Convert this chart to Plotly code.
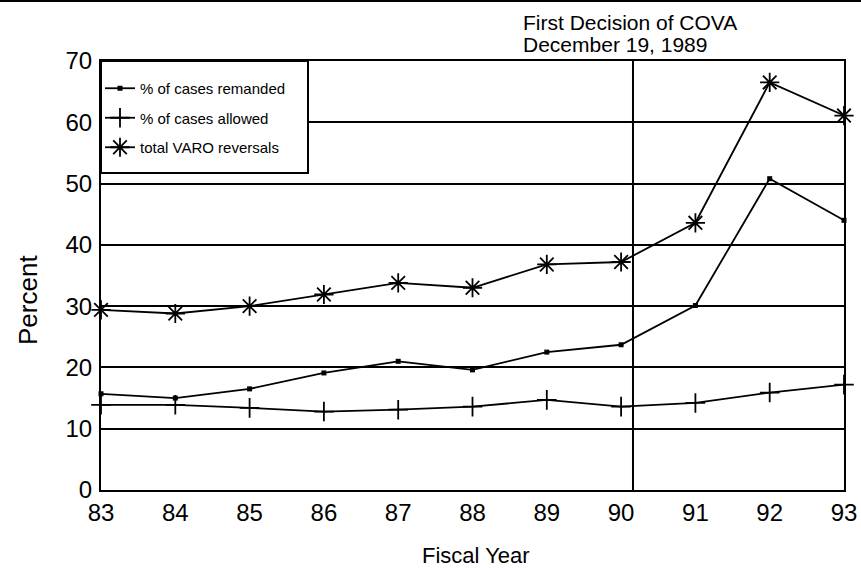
import plotly.graph_objects as go

years = [83, 84, 85, 86, 87, 88, 89, 90, 91, 92, 93]
year_labels = ["83", "84", "85", "86", "87", "88", "89", "90", "91", "92", "93"]
remanded = [15.7, 15.0, 16.5, 19.1, 21.0, 19.6, 22.5, 23.7, 30.1, 50.8, 44.0]
allowed = [13.9, 13.9, 13.4, 12.8, 13.1, 13.6, 14.7, 13.6, 14.2, 15.9, 17.2]
total_reversals = [29.4, 28.8, 30.0, 31.9, 33.8, 33.0, 36.8, 37.2, 43.6, 66.5, 61.1]
y_ticks = [0, 10, 20, 30, 40, 50, 60, 70]

series_names = ["% of cases remanded", "% of cases allowed", "total VARO reversals"]
note_lines = ["First Decision of COVA", "December 19, 1989"]
cova_decision_x = 90.16

FONT = "Liberation Sans, Arial, Helvetica, sans-serif"

fig = go.Figure()
fig.add_trace(go.Scatter(
    x=years, y=remanded, name=series_names[0], mode="lines+markers",
    line=dict(color="black", width=1.8),
    marker=dict(symbol="square", size=5, color="black"),
    cliponaxis=False, legendgroup="a"))
fig.add_trace(go.Scatter(
    x=years, y=allowed, name=series_names[1], mode="lines+markers",
    line=dict(color="black", width=1.8),
    marker=dict(symbol="cross-thin", size=14, color="black",
                line=dict(color="black", width=1.8)),
    cliponaxis=False, legendgroup="b"))
fig.add_trace(go.Scatter(
    x=years, y=total_reversals, name=series_names[2], mode="lines+markers",
    line=dict(color="black", width=1.8),
    marker=dict(symbol="asterisk-open", size=16, color="black",
                line=dict(color="black", width=1.8)),
    cliponaxis=False, legendgroup="c"))

plot_left, plot_right, plot_top, plot_bottom = 101, 844, 61, 490
pw = plot_right - plot_left
ph = plot_bottom - plot_top

fig.update_layout(
    width=861, height=568,
    margin=dict(l=plot_left, r=861 - plot_right, t=plot_top, b=568 - plot_bottom,
                autoexpand=False),
    paper_bgcolor="white", plot_bgcolor="white",
    font=dict(family=FONT, color="black"),
    showlegend=True,
    legend=dict(
        x=(100 - plot_left) / pw, y=(plot_bottom - 72) / ph,
        xanchor="left", yanchor="top",
        bgcolor="rgba(0,0,0,0)", borderwidth=0,
        font=dict(size=15, family=FONT, color="black"),
        tracegroupgap=7, itemwidth=30, traceorder="grouped",
    ),
    xaxis=dict(
        range=[83, 93], tickmode="array", tickvals=years, ticktext=year_labels,
        showgrid=False, zeroline=False, showline=True, mirror=True,
        linecolor="black", linewidth=2, ticks="", automargin=False,
        tickfont=dict(size=24, family=FONT, color="black"),
    ),
    yaxis=dict(
        range=[0, 70], tickmode="array", tickvals=y_ticks,
        showgrid=True, gridcolor="black", gridwidth=1.6,
        zeroline=False, showline=True, mirror=True,
        linecolor="black", linewidth=2, ticks="", automargin=False,
        tickfont=dict(size=24, family=FONT, color="black"),
        ticklabelstandoff=2,
    ),
)

# legend box
fig.add_shape(type="rect", xref="paper", yref="paper",
              x0=0, x1=(308 - plot_left) / pw,
              y0=(plot_bottom - 173) / ph, y1=1,
              fillcolor="white", line=dict(color="black", width=2), layer="above")

# vertical line: first decision of COVA
fig.add_shape(type="line", xref="x", yref="paper",
              x0=cova_decision_x, x1=cova_decision_x, y0=0, y1=1,
              line=dict(color="black", width=2))

# top rule of the page
fig.add_shape(type="line", xref="paper", yref="paper",
              x0=-plot_left / pw, x1=(861 - plot_left) / pw,
              y0=(plot_bottom - 1) / ph, y1=(plot_bottom - 1) / ph,
              line=dict(color="black", width=2))

for line_text, y_px in zip(note_lines, [22, 45]):
    fig.add_annotation(
        text=line_text, xref="paper", yref="paper",
        x=(521 - plot_left) / pw, y=(plot_bottom - y_px) / ph,
        xanchor="left", yanchor="middle", align="left", showarrow=False,
        font=dict(size=21, family=FONT, color="black"))

fig.add_annotation(
    text="Fiscal Year", xref="paper", yref="paper",
    x=(476 - plot_left) / pw, y=(plot_bottom - 555) / ph,
    xanchor="center", yanchor="middle", showarrow=False,
    font=dict(size=22, family=FONT, color="black"))

fig.add_annotation(
    text="Percent", xref="paper", yref="paper",
    x=(28 - plot_left) / pw, y=(plot_bottom - 300) / ph,
    xanchor="center", yanchor="middle", showarrow=False, textangle=-90,
    font=dict(size=26, family=FONT, color="black"))

fig.write_html(
    "out.html",
    config={"displayModeBar": False},
    post_script=("document.documentElement.style.margin='0';"
                 "document.documentElement.style.overflow='hidden';"
                 "document.body.style.margin='0';document.body.style.padding='0';"
                 "document.body.style.overflow='hidden';"))
